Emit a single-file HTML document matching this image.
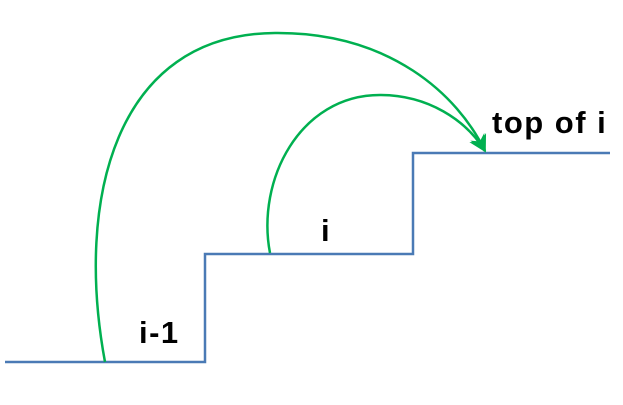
<!DOCTYPE html>
<html><head><meta charset="utf-8"><style>
body{margin:0;background:#fff;}
svg{display:block;}
text{font-family:"Liberation Sans",Arial,sans-serif;font-weight:bold;fill:#000;}
</style></head><body>
<svg width="623" height="405" viewBox="0 0 623 405">
<defs>
<marker id="ah" viewBox="0 0 10 10" refX="9" refY="5" markerWidth="7" markerHeight="7" orient="auto" markerUnits="strokeWidth">
<path d="M0,0 L10,5 L0,10 L3,5 z" fill="#00b050"/>
</marker>
</defs>
<path d="M5,362 H205 V254 H413 V153 H610" fill="none" stroke="#4a7ab5" stroke-width="2.5"/>
<path d="M105,362 C75,200 115,34 275,33 C390,32 458,95 485,151" fill="none" stroke="#00b050" stroke-width="2.5" marker-end="url(#ah)"/>
<path d="M270,253 C256,180 300,95 380,95 C428,95 466,120 485,151" fill="none" stroke="#00b050" stroke-width="2.5" marker-end="url(#ah)"/>
<text x="139" y="343" font-size="31" letter-spacing="1.5">i-1</text>
<text x="321" y="241" font-size="31">i</text>
<text x="492" y="133" font-size="31" letter-spacing="1.5">top of i</text>
</svg>
</body></html>
